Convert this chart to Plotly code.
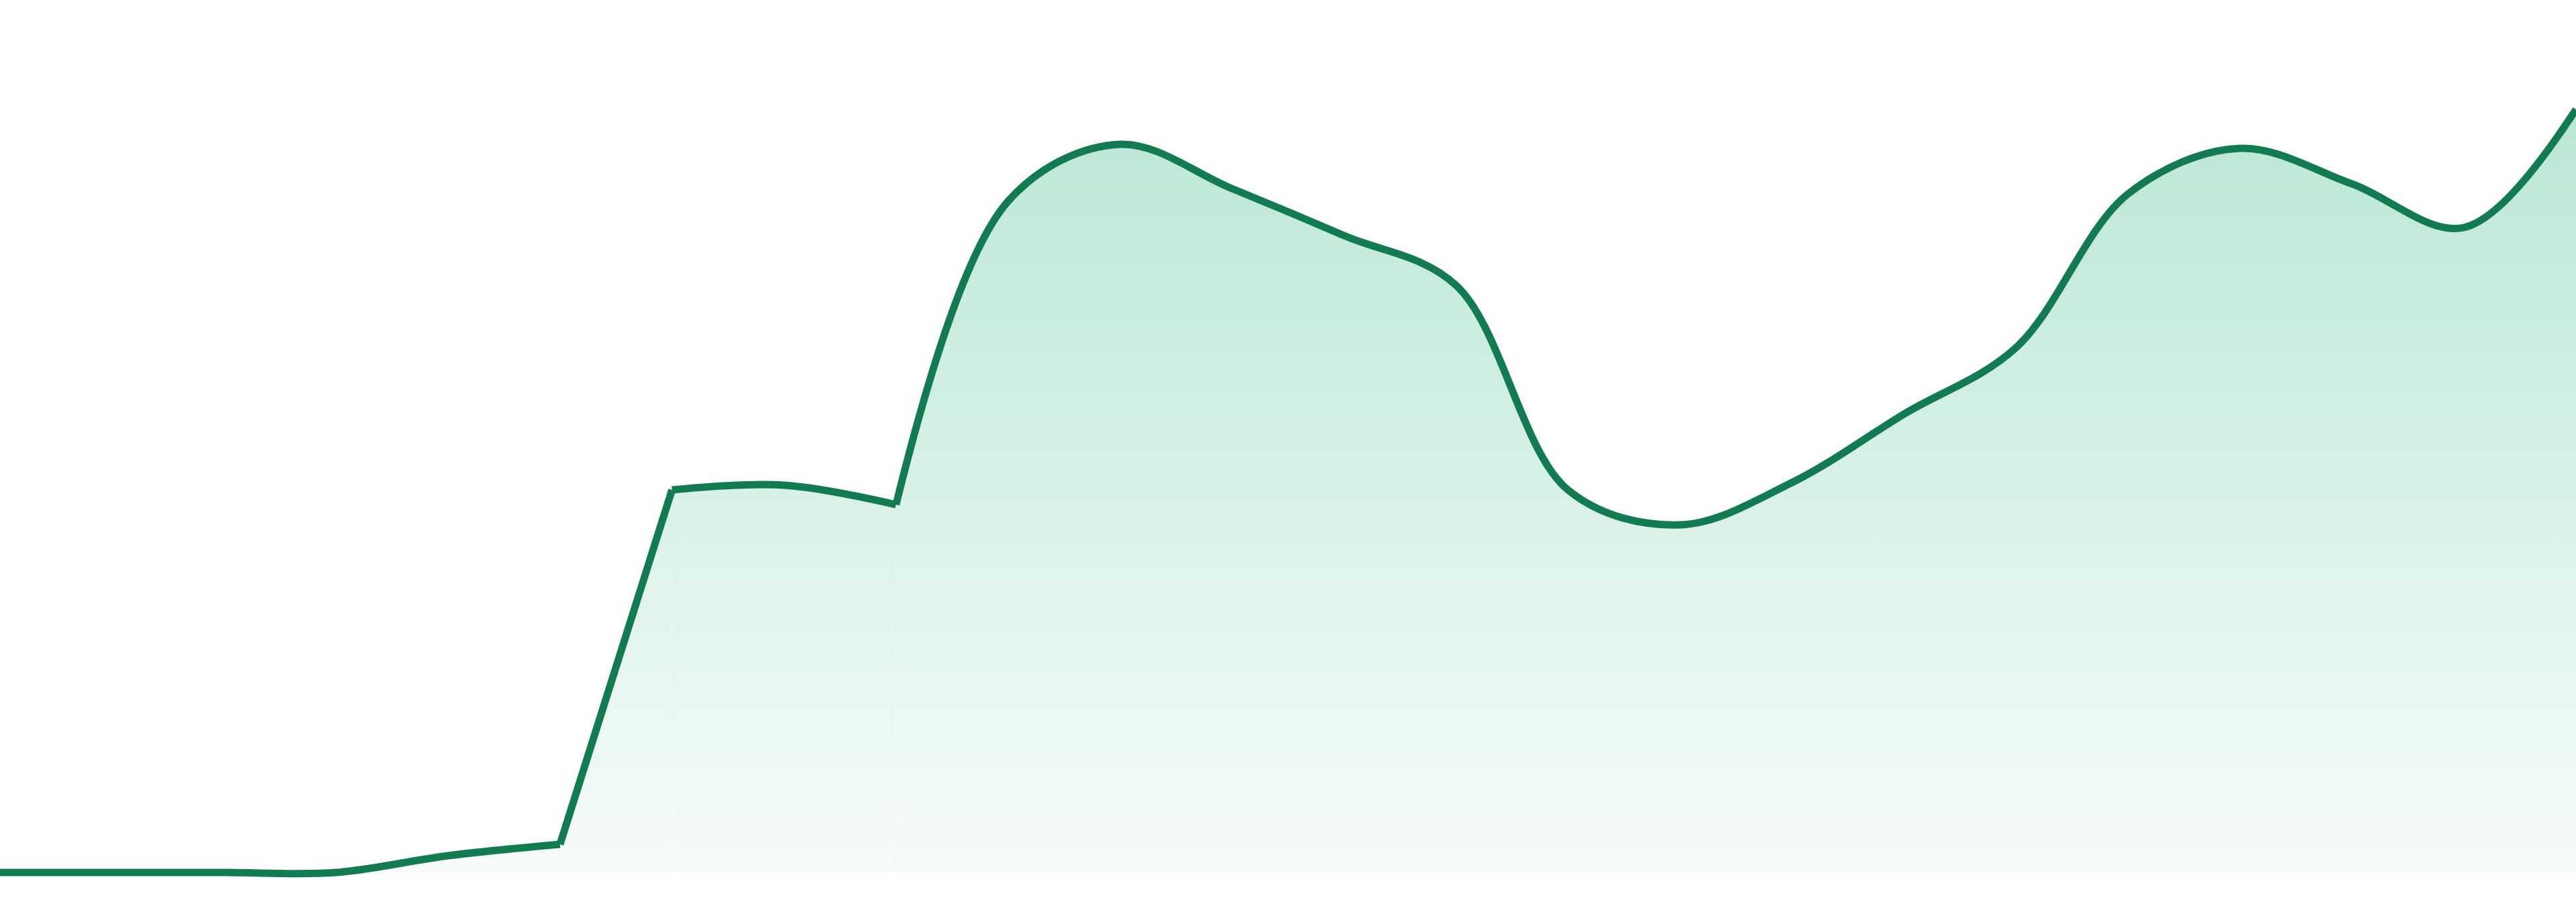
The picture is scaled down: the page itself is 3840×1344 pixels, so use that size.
import plotly.graph_objects as go

# Data (24 evenly spaced points)
points = list(range(24))
values = [0, 0, 0, 0, 2.5, 4.2, 57.0, 57.7, 54.8, 100.0, 108.5, 101.9,
          94.9, 87.5, 57.0, 51.8, 58.1, 68.3, 78.2, 101.1, 107.9, 102.6, 96.1, 113.7]

# indices where the curve shows a sharp corner (monotone-style joins)
corners = [5, 6, 8]

LINE_COLOR = "#127c50"
FILL_TOP = "rgb(186,231,213)"
FILL_BOTTOM = "rgb(246,251,249)"

bounds = [0] + corners + [len(points) - 1]
pieces = [(bounds[k], bounds[k + 1]) for k in range(len(bounds) - 1)]

fig = go.Figure()
# gradient fills, one per piece
for a, b in pieces:
    fig.add_trace(go.Scatter(
        x=points[a:b + 1],
        y=values[a:b + 1],
        mode="lines",
        line=dict(color="rgba(0,0,0,0)", width=0, shape="spline", smoothing=1),
        fill="tozeroy",
        fillgradient=dict(
            type="vertical",
            colorscale=[[0, FILL_BOTTOM], [1, FILL_TOP]],
            start=0,
            stop=max(values),
        ),
        hoverinfo="skip",
        showlegend=False,
    ))
# the line on top
for a, b in pieces:
    fig.add_trace(go.Scatter(
        x=points[a:b + 1],
        y=values[a:b + 1],
        mode="lines",
        line=dict(color=LINE_COLOR, width=11, shape="spline", smoothing=1),
        hoverinfo="skip",
        showlegend=False,
    ))

fig.update_layout(
    width=3840,
    height=1344,
    margin=dict(l=0, r=0, t=0, b=0),
    paper_bgcolor="white",
    plot_bgcolor="white",
    xaxis=dict(visible=False, range=[0, 23], fixedrange=True),
    yaxis=dict(visible=False, range=[-4.4, 130.0], fixedrange=True),
)

fig.write_html(
    "out.html",
    config={"displayModeBar": False},
    post_script="document.body.style.margin='0';document.body.style.overflow='hidden';",
)
